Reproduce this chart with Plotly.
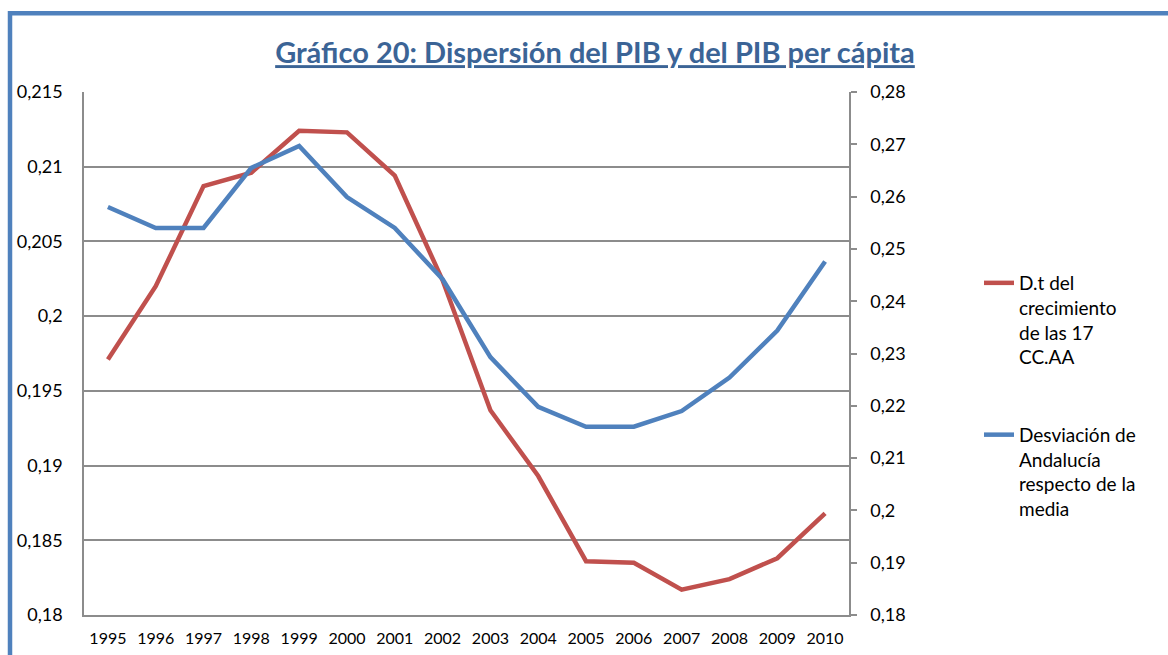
import plotly.graph_objects as go

years = ["1995", "1996", "1997", "1998", "1999", "2000", "2001", "2002",
         "2003", "2004", "2005", "2006", "2007", "2008", "2009", "2010"]

dt_crecimiento = [0.1971, 0.2020, 0.2087, 0.2096, 0.2124, 0.2123, 0.2094, 0.2024,
                  0.1937, 0.1893, 0.1836, 0.1835, 0.1817, 0.1824, 0.1838, 0.1868]

desviacion_andalucia = [0.2580, 0.2540, 0.2540, 0.2655, 0.2697, 0.2599, 0.2540, 0.2442,
                        0.2293, 0.2198, 0.2160, 0.2160, 0.2190, 0.2254, 0.2344, 0.2476]

left_ticks = [0.18, 0.185, 0.19, 0.195, 0.2, 0.205, 0.21, 0.215]
left_labels = ["0,18", "0,185", "0,19", "0,195", "0,2", "0,205", "0,21", "0,215"]
right_ticks = [0.18, 0.19, 0.2, 0.21, 0.22, 0.23, 0.24, 0.25, 0.26, 0.27, 0.28]
right_labels = ["0,18", "0,19", "0,2", "0,21", "0,22", "0,23", "0,24", "0,25", "0,26", "0,27", "0,28"]

name_red = "D.t del<br>crecimiento<br>de las 17<br>CC.AA"
name_blue = "Desviación de<br>Andalucía<br>respecto de la<br>media"
title_text = "Gráfico 20: Dispersión del PIB y del PIB per cápita"

RED = "#C0504D"
BLUE = "#4F81BD"
GRID = "#8C8C8C"
FONT = "Lato"

fig = go.Figure()
fig.add_trace(go.Scatter(x=years, y=dt_crecimiento, name=name_red, mode="lines",
                         line=dict(color=RED, width=4.5), legendgroup="a", yaxis="y"))
fig.add_trace(go.Scatter(x=years, y=desviacion_andalucia, name=name_blue, mode="lines",
                         line=dict(color=BLUE, width=4.5), legendgroup="b", yaxis="y2"))

W, H = 1168, 655
L, R, T, B = 84, 849, 92, 615
pw, ph = R - L, B - T

def px_x(v):
    return (v - L) / pw

def px_y(v):
    return (B - v) / ph

fig.update_layout(
    width=W, height=H,
    margin=dict(l=L, r=W - R, t=T, b=H - B, autoexpand=False),
    paper_bgcolor="white", plot_bgcolor="white",
    font=dict(family=FONT, color="black"),
    title=dict(text="<b><u>" + title_text + "</u></b>", xref="container", x=595 / W,
               xanchor="center", yref="container", y=1 - 53 / H, yanchor="middle",
               font=dict(size=29, color="#3B6496", family=FONT)),
    xaxis=dict(type="category", range=[-0.5, len(years) - 0.5], showgrid=False,
               showline=True, linecolor=GRID, linewidth=1.5,
               ticks="", tickfont=dict(size=16), ticklabelstandoff=8, zeroline=False),
    yaxis=dict(range=[0.18, 0.215], tickvals=left_ticks, ticktext=left_labels,
               showgrid=True, gridcolor=GRID, gridwidth=1.5, showline=True, linecolor=GRID,
               linewidth=1.5, ticks="", tickfont=dict(size=18), ticklabelstandoff=16,
               zeroline=False),
    yaxis2=dict(range=[0.18, 0.28], tickvals=right_ticks, ticktext=right_labels,
                overlaying="y", side="right", showgrid=False, showline=True, linecolor=GRID,
                linewidth=1.5, ticks="outside", ticklen=6, tickcolor=GRID, tickwidth=1.5,
                tickfont=dict(size=18), ticklabelstandoff=10, zeroline=False),
    legend=dict(x=px_x(979), xanchor="left", y=px_y(264), yanchor="top",
                valign="top", tracegroupgap=50, font=dict(size=19),
                bgcolor="rgba(0,0,0,0)"),
    shapes=[dict(type="rect", xref="paper", yref="paper",
                 x0=px_x(10), x1=px_x(1180), y0=px_y(670), y1=px_y(13.3),
                 line=dict(color=BLUE, width=4.5), fillcolor="rgba(0,0,0,0)", layer="below")],
)

fig.write_html("out.html", config={"displayModeBar": False},
               post_script="document.body.style.margin='0';document.body.style.overflow='hidden';")
